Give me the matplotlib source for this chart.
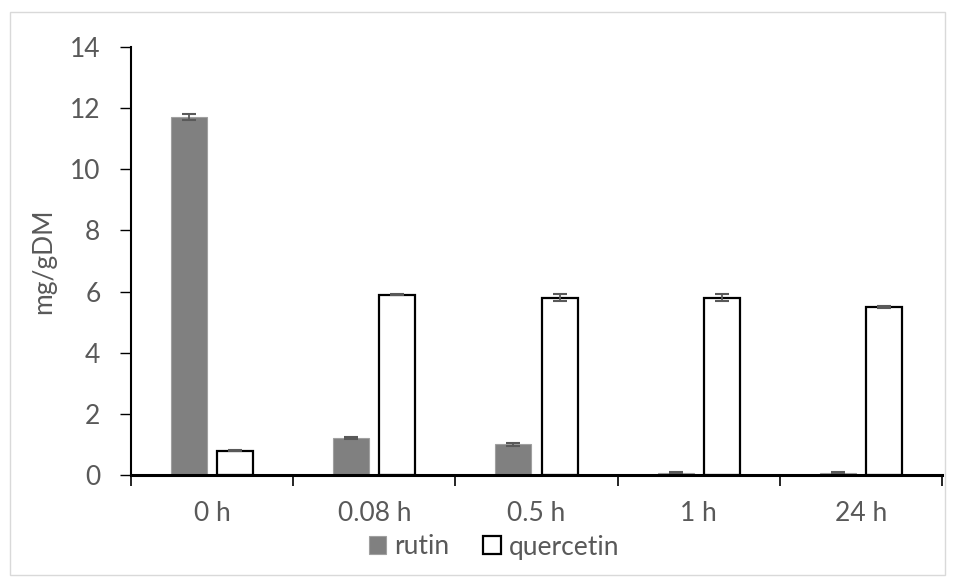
import matplotlib.pyplot as plt
import numpy as np
from matplotlib.patches import Rectangle

plt.rcParams['font.family'] = ['Lato', 'DejaVu Sans']

times = ['0 h', '0.08 h', '0.5 h', '1 h', '24 h']
rutin = [11.7, 1.2, 1.0, 0.07, 0.07]
rutin_err = [0.1, 0.03, 0.05, 0.02, 0.02]
quercetin = [0.8, 5.9, 5.8, 5.8, 5.5]
quercetin_err = [0.02, 0.02, 0.12, 0.12, 0.03]

txt = '#595959'
fs = 19
fig = plt.figure(figsize=(9.57, 5.81), dpi=100)
ax = fig.add_axes([131/957, 1-475/581, (942-131)/957, (475-47)/581])

x = np.arange(len(times))
w = 0.222
off = 0.142
ax.bar(x - off, rutin, w, color='#808080', edgecolor='#a0a0a0', linewidth=0.8,
       yerr=rutin_err, error_kw=dict(ecolor=txt, elinewidth=1.3, capsize=5, capthick=1.5),
       label='rutin', zorder=2)
ax.bar(x + off, quercetin, w, color='white', edgecolor='black', linewidth=1.6,
       yerr=quercetin_err, error_kw=dict(ecolor=txt, elinewidth=1.3, capsize=5, capthick=1.5),
       label='quercetin', zorder=2)

ax.set_xlim(-0.5, len(times) - 0.5)
ax.set_ylim(0, 14)
ax.set_yticks(range(0, 15, 2))
ax.set_xticks(np.arange(-0.5, len(times), 1.0))
ax.set_xticklabels([])
ax.set_xticks(x, minor=True)
ax.set_xticklabels(times, minor=True)
ax.tick_params(axis='x', which='minor', length=0, pad=19, labelsize=fs, labelcolor=txt)
ax.tick_params(axis='x', which='major', length=8, width=1.2, direction='out', color='black')
ax.tick_params(axis='y', length=8, width=1.0, color='black', labelsize=fs, labelcolor=txt, pad=14)
for s in ['top', 'right']:
    ax.spines[s].set_visible(False)
ax.spines['left'].set_linewidth(1.5)
ax.spines['bottom'].set_linewidth(2.2)
ax.set_ylabel('mg/gDM', fontsize=fs, color=txt, labelpad=10)

fig.legend(*ax.get_legend_handles_labels(), loc='center',
           bbox_to_anchor=(494/957, 1-547/581), ncol=2, frameon=False,
           fontsize=fs, handlelength=0.65, handleheight=0.65, handletextpad=0.3,
           columnspacing=1.3, labelcolor=txt, borderpad=0)

fig.patches.append(Rectangle((10/957, 1-575/581), (945-10)/957, (575-12)/581,
                             transform=fig.transFigure, fill=False,
                             edgecolor='#d9d9d9', linewidth=1.0))

fig.savefig('out.png', dpi=100)
